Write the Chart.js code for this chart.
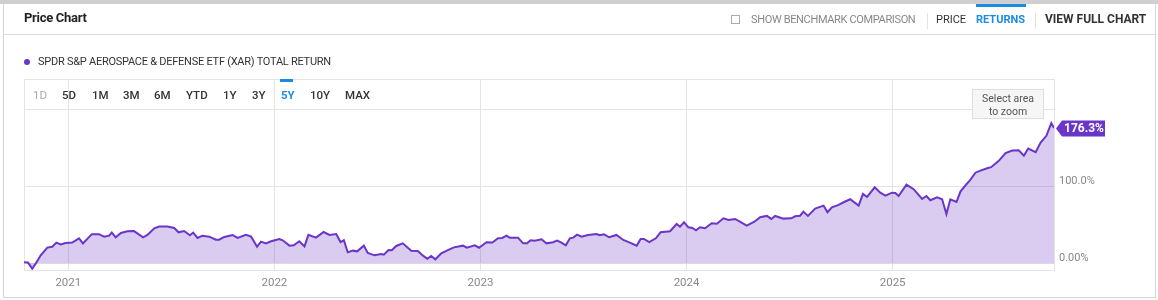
<!DOCTYPE html>
<html>
<head>
<meta charset="utf-8">
<script src="https://cdn.jsdelivr.net/npm/chart.js@4/dist/chart.umd.min.js"></script>
<style>
  body { margin: 0; background: #fff; font-family: Roboto, "Noto Sans", sans-serif; }
  .card { position: relative; width: 1158px; height: 300px; overflow: hidden; }
  .topbar { position: absolute; left: 0; top: 0; width: 1158px; height: 4px; background: #cfcfcf; }
  .frame { position: absolute; left: 3px; top: 4px; width: 1151px; height: 293px; border: 1px solid #d6d6d6; border-top: none; }
  .divider { position: absolute; left: 3px; top: 34px; width: 1152px; height: 1px; background: #dcdcdc; }
  .t { position: absolute; white-space: nowrap; line-height: 14px; }
  .title { left: 24px; top: 11px; font-size: 13px; font-weight: 700; color: #222; letter-spacing: -0.3px; }
  .hdr { top: 13px; font-size: 11px; }
  .sep { position: absolute; top: 13px; width: 1px; height: 16px; background: #e2e2e2; }
  .check { position: absolute; left: 731px; top: 15px; width: 7px; height: 7px; border: 1px solid #aaa; }
  .legend { left: 38px; top: 55px; font-size: 11px; color: #333; letter-spacing: -0.25px; }
  .dot { position: absolute; left: 24px; top: 59px; width: 6px; height: 6px; border-radius: 50%; background: #6a35c8; }
  .range { top: 88px; font-size: 11.5px; font-weight: 500; color: #333; }
  .bar { position: absolute; background: #1a8be0; }
  .zoomtip { position: absolute; left: 972px; top: 89px; width: 72px; height: 30px; background: #f6f6f6; border: 1px solid #dedede;
             font-size: 10.5px; color: #555; text-align: center; line-height: 13px; padding-top: 2px; box-sizing: border-box; }
  canvas { position: absolute; left: 0; top: 0; }
</style>
</head>
<body>
<div class="card">
  <canvas id="priceChart" width="1158" height="300"></canvas>
  <div class="topbar"></div>
  <div class="frame"></div>
  <div class="divider"></div>
  <div class="t title">Price Chart</div>
  <div class="check"></div>
  <div class="t hdr" style="left:751px;color:#888;letter-spacing:-0.35px;">SHOW BENCHMARK COMPARISON</div>
  <div class="sep" style="left:927px;"></div>
  <div class="t hdr" style="left:936px;color:#333;">PRICE</div>
  <div class="bar" style="left:976px;top:4px;width:50px;height:3px;"></div>
  <div class="t hdr" style="left:976px;color:#1a8be0;font-weight:700;">RETURNS</div>
  <div class="sep" style="left:1035px;"></div>
  <div class="t hdr" style="left:1045px;color:#333;font-weight:700;font-size:12px;top:12px;">VIEW FULL CHART</div>

  <div class="dot"></div>
  <div class="t legend">SPDR S&amp;P AEROSPACE &amp; DEFENSE ETF (XAR) TOTAL RETURN</div>

  <div class="t range" style="left:33px;color:#aaa;font-weight:400;">1D</div>
  <div class="t range" style="left:62px;">5D</div>
  <div class="t range" style="left:92px;">1M</div>
  <div class="t range" style="left:123px;">3M</div>
  <div class="t range" style="left:154px;">6M</div>
  <div class="t range" style="left:186px;">YTD</div>
  <div class="t range" style="left:223px;">1Y</div>
  <div class="t range" style="left:252px;">3Y</div>
  <div class="bar" style="left:280px;top:79px;width:13px;height:3px;"></div>
  <div class="t range" style="left:281px;color:#1a8be0;font-weight:700;">5Y</div>
  <div class="t range" style="left:310px;">10Y</div>
  <div class="t range" style="left:345px;">MAX</div>

  <div class="zoomtip">Select area<br>to zoom</div>
</div>

<script>
// dates as decimal years, total return in %
const timeYears = [
  2020.785, 2020.804, 2020.825, 2020.844, 2020.866, 2020.898, 2020.922, 2020.942, 2020.963, 2020.987,
  2021.019, 2021.052, 2021.071, 2021.114, 2021.149, 2021.174, 2021.198, 2021.211, 2021.230, 2021.255,
  2021.287, 2021.319, 2021.328, 2021.363, 2021.384, 2021.417, 2021.441, 2021.481, 2021.514, 2021.535,
  2021.562, 2021.590, 2021.606, 2021.627, 2021.651, 2021.684, 2021.716, 2021.732, 2021.757, 2021.797,
  2021.821, 2021.862, 2021.887, 2021.916, 2021.935, 2021.959, 2021.984, 2022.024, 2022.040, 2022.073,
  2022.094, 2022.121, 2022.146, 2022.165, 2022.202, 2022.239, 2022.267, 2022.300, 2022.321, 2022.337,
  2022.356, 2022.380, 2022.402, 2022.434, 2022.453, 2022.486, 2022.518, 2022.531, 2022.554, 2022.570,
  2022.591, 2022.623, 2022.664, 2022.696, 2022.721, 2022.742, 2022.761, 2022.781, 2022.810, 2022.842,
  2022.871, 2022.915, 2022.934, 2022.972, 2022.993, 2023.029, 2023.058, 2023.085, 2023.106, 2023.126,
  2023.142, 2023.182, 2023.207, 2023.226, 2023.243, 2023.263, 2023.296, 2023.320, 2023.352, 2023.372,
  2023.393, 2023.414, 2023.434, 2023.450, 2023.469, 2023.490, 2023.522, 2023.563, 2023.579, 2023.599,
  2023.625, 2023.660, 2023.693, 2023.725, 2023.758, 2023.777, 2023.793, 2023.819, 2023.851, 2023.874,
  2023.920, 2023.952, 2023.968, 2023.988, 2024.009, 2024.028, 2024.046, 2024.065, 2024.090, 2024.122,
  2024.147, 2024.179, 2024.203, 2024.236, 2024.265, 2024.292, 2024.329, 2024.357, 2024.390, 2024.411,
  2024.430, 2024.470, 2024.508, 2024.527, 2024.551, 2024.567, 2024.589, 2024.624, 2024.665, 2024.684,
  2024.705, 2024.738, 2024.762, 2024.794, 2024.835, 2024.856, 2024.876, 2024.913, 2024.940, 2024.965,
  2024.997, 2025.013, 2025.029, 2025.067, 2025.102, 2025.143, 2025.164, 2025.183, 2025.216, 2025.240,
  2025.261, 2025.280, 2025.310, 2025.329, 2025.358, 2025.374, 2025.402, 2025.426, 2025.459, 2025.478,
  2025.515, 2025.548, 2025.580, 2025.612, 2025.637, 2025.658, 2025.694, 2025.718, 2025.746, 2025.770,
  2025.783
];
const totalReturn = [
  1.3, 1.0, -7.0, 0.5, 10.4, 20.5, 21.5, 26.9, 24.7, 26.5,
  27.0, 32.6, 26.0, 38.0, 38.0, 34.7, 36.0, 40.0, 33.9, 39.5,
  41.7, 42.0, 40.4, 33.9, 36.9, 45.6, 47.8, 47.8, 46.0, 40.4,
  42.0, 36.5, 40.0, 33.0, 36.0, 34.7, 30.8, 30.8, 34.3, 36.9,
  33.0, 37.0, 34.7, 21.7, 28.2, 26.0, 28.7, 31.7, 30.0, 23.0,
  23.5, 28.7, 22.0, 37.0, 33.4, 40.8, 37.0, 38.2, 27.7, 30.0,
  14.3, 16.5, 15.6, 23.0, 13.4, 10.4, 12.1, 11.3, 17.3, 17.0,
  22.6, 26.0, 16.5, 16.0, 10.0, 6.0, 9.5, 5.2, 13.0, 17.3,
  20.8, 23.0, 20.3, 23.5, 20.3, 27.4, 27.0, 32.6, 33.0, 36.0,
  33.4, 33.4, 26.0, 26.0, 30.0, 29.5, 31.3, 26.0, 27.4, 29.5,
  26.9, 23.5, 32.6, 33.4, 37.3, 34.7, 36.9, 38.2, 36.5, 37.8,
  33.9, 36.9, 30.4, 26.9, 23.0, 31.7, 31.7, 27.7, 32.6, 40.4,
  41.7, 51.2, 47.7, 53.4, 46.9, 46.0, 43.0, 46.9, 45.6, 52.1,
  51.6, 58.6, 56.5, 57.8, 53.4, 49.0, 54.2, 60.0, 61.7, 57.8,
  61.7, 58.2, 58.6, 61.2, 62.0, 67.3, 61.7, 71.2, 75.1, 66.5,
  73.0, 76.0, 79.5, 83.4, 75.1, 90.4, 86.4, 99.0, 92.0, 88.2,
  92.0, 91.7, 87.7, 102.5, 96.5, 83.8, 87.7, 82.1, 86.0, 83.4,
  64.3, 83.4, 79.9, 93.4, 103.0, 107.7, 118.0, 120.7, 123.8, 125.2,
  133.4, 143.4, 146.8, 147.3, 140.3, 149.4, 144.7, 157.3, 166.0, 182.5,
  176.3
];
const yearTicks = [2021, 2022, 2023, 2024, 2025];
const yTickValues = [0, 100, 200];
const yTickLabels = ['0.00%', '100.0%', ''];

const purple = '#6a35c8';
const gridColor = '#e4e4e4';

const points = timeYears.map((t, i) => ({ x: t, y: totalReturn[i] }));

// Box around the plot area (top + left edges)
const frameBox = {
  id: 'frameBox',
  beforeDatasetsDraw(chart) {
    const { ctx, chartArea } = chart;
    ctx.save();
    ctx.strokeStyle = gridColor;
    ctx.lineWidth = 1;
    ctx.strokeRect(chartArea.left + 0.5, chartArea.top + 0.5, chartArea.width, chartArea.height);
    ctx.restore();
  }
};

// Last value flag on the right axis
const lastValueFlag = {
  id: 'lastValueFlag',
  afterDraw(chart) {
    const { ctx, chartArea } = chart;
    const last = totalReturn[totalReturn.length - 1];
    const y = Math.round(chart.scales.y.getPixelForValue(last)) + 0.5;
    const x = chartArea.right + 2;
    ctx.save();
    ctx.fillStyle = purple;
    ctx.beginPath();
    ctx.moveTo(x, y);
    ctx.lineTo(x + 6, y - 8);
    ctx.lineTo(x + 49, y - 8);
    ctx.lineTo(x + 49, y + 8);
    ctx.lineTo(x + 6, y + 8);
    ctx.closePath();
    ctx.fill();
    ctx.fillStyle = '#fff';
    ctx.font = 'bold 12px Roboto';
    ctx.textBaseline = 'middle';
    ctx.fillText(last.toFixed(1) + '%', x + 8, y + 0.5);
    ctx.restore();
  }
};

new Chart(document.getElementById('priceChart'), {
  type: 'line',
  data: {
    datasets: [{
      label: 'SPDR S&P Aerospace & Defense ETF (XAR) Total Return',
      data: points,
      borderColor: purple,
      backgroundColor: 'rgba(106, 53, 200, 0.25)',
      borderWidth: 2,
      pointRadius: 0,
      tension: 0,
      fill: 'origin'
    }]
  },
  options: {
    responsive: false,
    animation: false,
    devicePixelRatio: 1,
    layout: { padding: { left: 24, top: 79, right: 0, bottom: 0 } },
    plugins: {
      legend: { display: false },
      tooltip: { enabled: false }
    },
    scales: {
      x: {
        type: 'linear',
        min: timeYears[0],
        max: timeYears[timeYears.length - 1],
        afterBuildTicks: (axis) => { axis.ticks = yearTicks.map(v => ({ value: v })); },
        afterFit: (axis) => { axis.height = 30; },
        grid: { color: gridColor, drawTicks: false },
        border: { color: gridColor },
        ticks: {
          color: '#888',
          font: { family: 'Roboto', size: 11.5 },
          padding: 6,
          maxRotation: 0,
          callback: (v) => String(v)
        }
      },
      y: {
        position: 'right',
        min: -8.7,
        max: 240,
        afterBuildTicks: (axis) => { axis.ticks = yTickValues.map(v => ({ value: v })); },
        afterFit: (axis) => { axis.width = 104; },
        grid: { color: gridColor, drawTicks: false },
        border: { color: gridColor },
        ticks: {
          color: '#888',
          font: { family: 'Roboto', size: 11 },
          padding: 5,
          labelOffset: -5.5,
          callback: (v) => yTickLabels[yTickValues.indexOf(v)]
        }
      }
    }
  },
  plugins: [frameBox, lastValueFlag]
});
</script>
</body>
</html>
